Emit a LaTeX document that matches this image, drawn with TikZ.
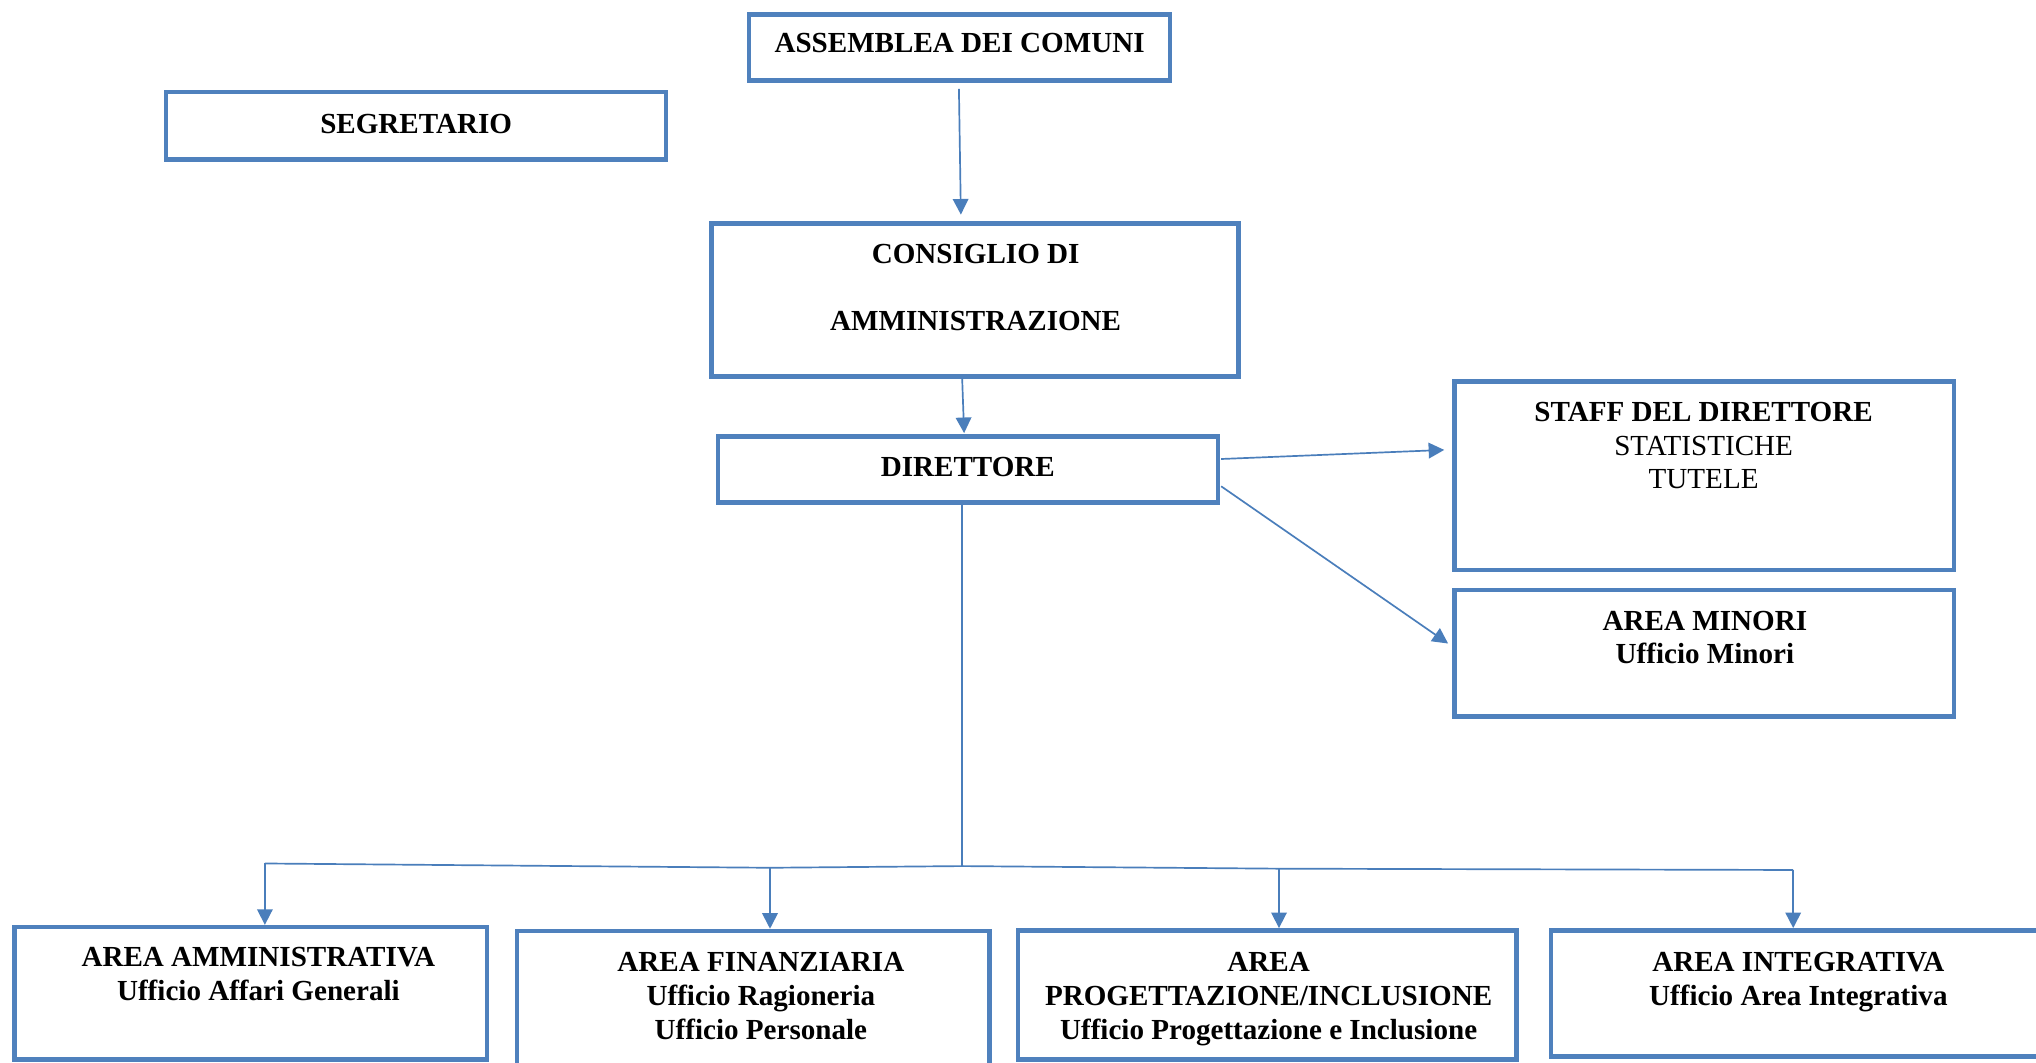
\documentclass[tikz,border=0pt]{standalone}
\usepackage{fontspec}
\setmainfont{Liberation Serif}
\usetikzlibrary{arrows.meta,calc}
\definecolor{boxblue}{HTML}{4F81BD}
\definecolor{lineblue}{HTML}{4A7EBB}
\begin{document}
\begin{tikzpicture}[x=0.5pt,y=-0.5pt,
  box/.style={draw=boxblue, line width=1.75pt, fill=white, inner sep=0pt},
  txt/.style={inner sep=0pt, align=center, font=\fontsize{11.2}{13}\selectfont\bfseries},
  conn/.style={draw=lineblue, line width=0.65pt},
  arr/.style={conn, -{Triangle[length=6pt,width=6pt]}}]
\useasboundingbox (0,0) rectangle (1568,818);
\clip (0,0) rectangle (1568,818);
\fill[white] (0,0) rectangle (1568,818);
% boxes
\node[box, minimum width=162pt, minimum height=25.5pt] (asm) at (739,36.5) {};
\node[box, minimum width=192.5pt, minimum height=26pt] (seg) at (320.5,97) {};
\node[box, minimum width=203pt, minimum height=59pt] (cda) at (751,231) {};
\node[box, minimum width=192.5pt, minimum height=25.5pt] (dir) at (745.5,361.5) {};
\node[box, minimum width=192.5pt, minimum height=72.5pt] (staff) at (1312.5,366.5) {};
\node[box, minimum width=192.5pt, minimum height=48.8pt] (min) at (1312.5,503.2) {};
\node[box, minimum width=182pt, minimum height=51pt] (amm) at (193,765) {};
\node[box, minimum width=182pt, minimum height=53pt] (fin) at (580,770) {};
\node[box, minimum width=192pt, minimum height=49.75pt] (prog) at (976,766.25) {};
\node[box, minimum width=193pt, minimum height=48.5pt] (integ) at (1387.6,765) {};
% texts
\node[txt, anchor=base] (t-asm) at (739,40.6) {ASSEMBLEA DEI COMUNI};
\node[txt, anchor=base] (t-seg) at (320.5,102.7) {SEGRETARIO};
\node[txt, anchor=north] (t-cda) at (751.4,188) {CONSIGLIO DI\\[12.75pt]AMMINISTRAZIONE};
\node[txt, anchor=base] (t-dir) at (745.4,366.6) {DIRETTORE};
\node[txt, anchor=north] (t-staff) at (1312,309.3) {STAFF DEL DIRETTORE\\{\mdseries STATISTICHE}\\{\mdseries TUTELE}};
\node[txt, anchor=north] (t-min) at (1313,470) {AREA MINORI\\Ufficio Minori};
\node[txt, anchor=north] (t-amm) at (199,729) {AREA AMMINISTRATIVA\\Ufficio Affari Generali};
\node[txt, anchor=north] (t-fin) at (586,733) {AREA FINANZIARIA\\Ufficio Ragioneria\\Ufficio Personale};
\node[txt, anchor=north] (t-prog) at (977,733) {AREA\\PROGETTAZIONE/INCLUSIONE\\Ufficio Progettazione e Inclusione};
\node[txt, anchor=north] (t-integ) at (1385,733) {AREA INTEGRATIVA\\Ufficio Area Integrativa};
% bus coordinates
\coordinate (jL) at (204,665);
\coordinate (jF) at (593,668.3);
\coordinate (jC) at (741,667);
\coordinate (jP) at (985,669);
\coordinate (jR) at (1381,670);
% connectors
\draw[arr] ($(asm.south)+(-0.5,4.7)$) -- ($(cda.north)+(-11,-5)$);
\draw[arr] ($(cda.south)+(-10,0)$) -- ($(dir.north)+(-3,-0.7)$);
\draw[arr] ($(dir.east)+(0.7,-8)$) -- ($(staff.west)+(-6,-20)$);
\draw[arr] ($(dir.east)+(0.7,13)$) -- ($(min.west)+(-3,-7.6)$);
\draw[conn] (jC |- dir.south) -- (jC);
\draw[conn] (jL) -- (jF) -- (jC) -- (jP) -- (jR);
\draw[arr] (jL) -- (jL |- amm.north);
\draw[arr] (jF) -- (jF |- fin.north);
\draw[arr] (jP) -- (jP |- prog.north);
\draw[arr] (jR) -- (jR |- integ.north);
\end{tikzpicture}
\end{document}
